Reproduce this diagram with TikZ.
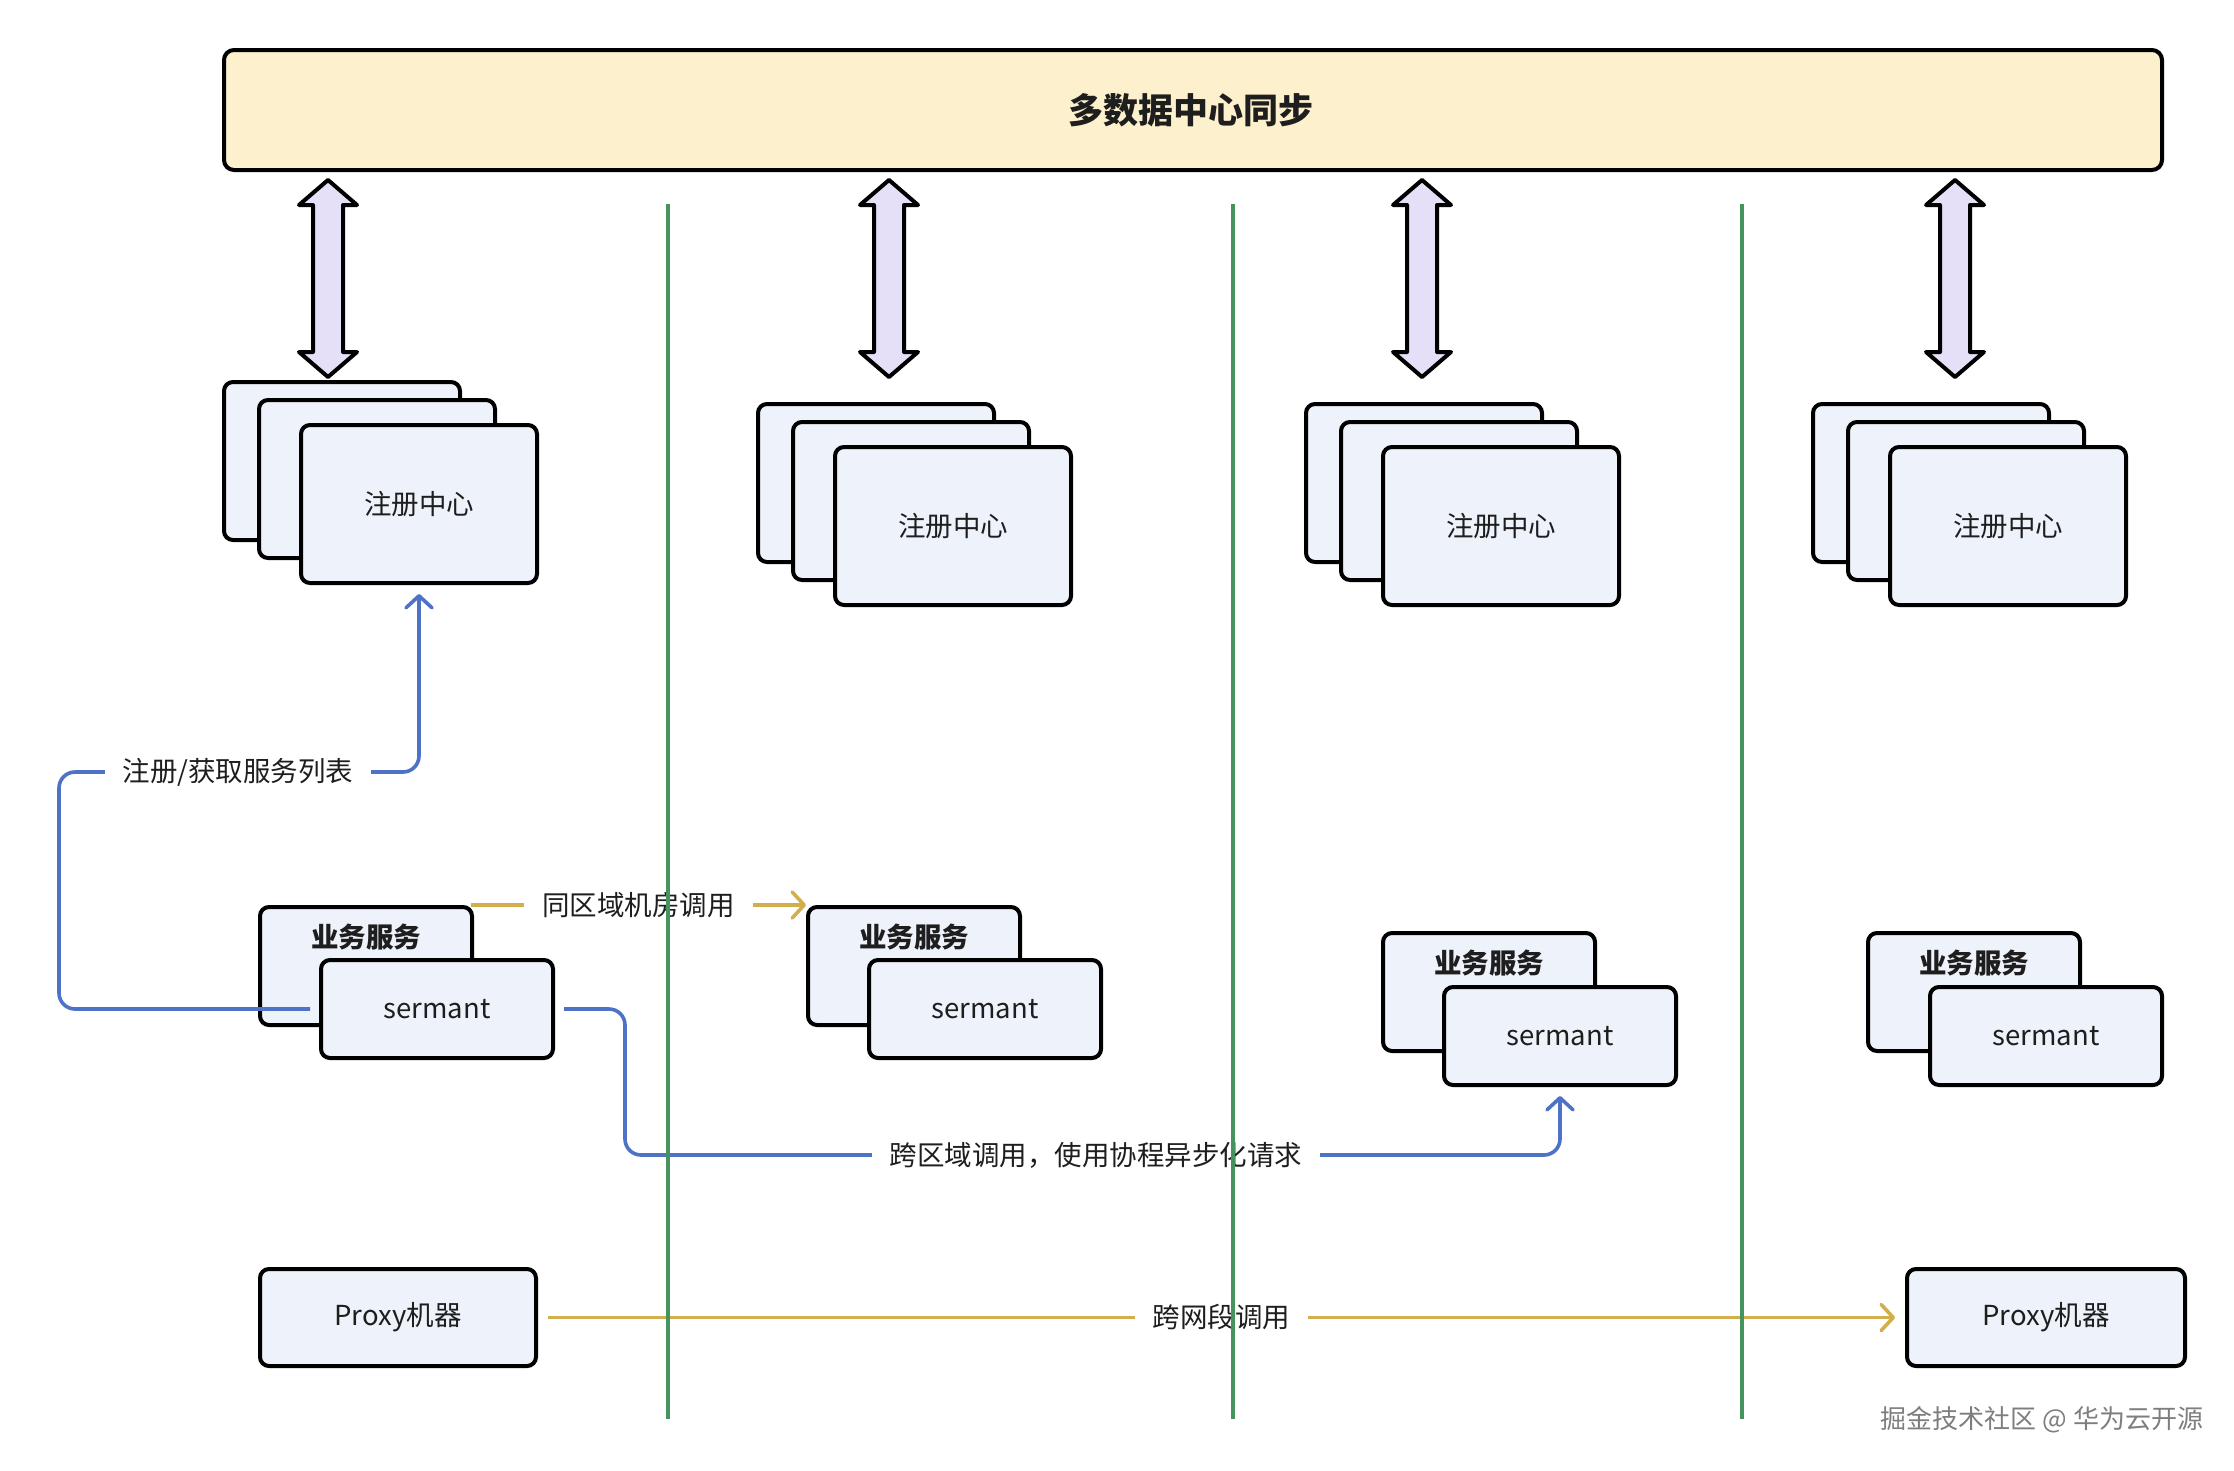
\documentclass[tikz,border=0pt]{standalone}
\usepackage{fontspec}
\setmainfont{Noto Sans CJK SC}
\usetikzlibrary{arrows.meta,calc}
\definecolor{bannerfill}{HTML}{FDF1CD}
\definecolor{cardfill}{HTML}{EEF2FA}
\definecolor{arrowfill}{HTML}{E5E0F8}
\definecolor{greenln}{HTML}{45935F}
\definecolor{blueln}{HTML}{4E72C6}
\definecolor{goldln}{HTML}{D2AF4E}
\definecolor{textc}{HTML}{1E1E1E}
\definecolor{markc}{HTML}{7E7E7E}
\newcommand{\dblarr}[1]{%
  \filldraw[dblstyle] (#1,180) -- (#1+29,205) -- (#1+15,205) -- (#1+15,352) -- (#1+29,352)
    -- (#1,377) -- (#1-29,352) -- (#1-15,352) -- (#1-15,205) -- (#1-29,205) -- cycle;}
\begin{document}
\begin{tikzpicture}[x=1pt,y=-1pt,
  base/.style={font=\fontsize{27.5}{32}\selectfont, text=textc},
  card/.style={base, draw=black, line width=4pt, rounded corners=9pt, fill=cardfill,
    anchor=north west, inner sep=0pt},
  regcard/.style={card, minimum width=236pt, minimum height=158pt},
  svcbox/.style={card, minimum width=212pt, minimum height=118pt,
    label={[base, font=\fontsize{27.5}{32}\selectfont\bfseries, anchor=center, yshift=-32pt]north:业务服务}},
  sermbox/.style={card, minimum width=232pt, minimum height=98pt},
  proxybox/.style={card, minimum height=97pt},
  dblstyle/.style={draw=black, fill=arrowfill, line width=4pt, line join=round},
  lab/.style={base, fill=white, inner xsep=18pt, inner ysep=3pt},
  tip/.style={-{Straight Barb[length=12pt,width=26pt,round]}},
  bluec/.style={draw=blueln, line width=3.6pt, rounded corners=16pt, tip},
  goldc/.style={draw=goldln, line width=3.6pt, tip},
  divider/.style={draw=greenln, line width=3.2pt}
]
\fill[white] (0,0) rectangle (2234,1470);
\useasboundingbox (0,0) rectangle (2234,1470);

% banner
\node[card, fill=bannerfill, rounded corners=10pt, minimum width=1938pt, minimum height=120pt] (banner) at (222,48) {};
\node[base, font=\fontsize{35}{40}\selectfont\bfseries] (title) at (1191,110) {多数据中心同步};

% double arrows
\dblarr{328}
\dblarr{889}
\dblarr{1422}
\dblarr{1955}

% registry stacks
\node[regcard] (r1a) at (222,380) {};
\node[regcard] (r1b) at (257,398) {};
\node[regcard] (r1c) at (299,423) {注册中心};
\node[regcard] (r2a) at (756,402) {};
\node[regcard] (r2b) at (791,420) {};
\node[regcard] (r2c) at (833,445) {注册中心};
\node[regcard] (r3a) at (1304,402) {};
\node[regcard] (r3b) at (1339,420) {};
\node[regcard] (r3c) at (1381,445) {注册中心};
\node[regcard] (r4a) at (1811,402) {};
\node[regcard] (r4b) at (1846,420) {};
\node[regcard] (r4c) at (1888,445) {注册中心};

% services
\node[svcbox] (b1) at (258,905) {};
\node[sermbox] (s1) at (319,958) {sermant};
\node[svcbox] (b2) at (806,905) {};
\node[sermbox] (s2) at (867,958) {sermant};
\node[svcbox] (b3) at (1381,931) {};
\node[sermbox] (s3) at (1442,985) {sermant};
\node[svcbox] (b4) at (1866,931) {};
\node[sermbox] (s4) at (1928,985) {sermant};

% proxies
\node[proxybox, minimum width=276pt] (p1) at (258,1267) {Proxy机器};
\node[proxybox, minimum width=278pt] (p2) at (1905,1267) {Proxy机器};

% connectors
\draw[bluec] ([xshift=-9pt]s1.west) -| (59,772) -| ([yshift=-9pt]r1c.south);
\node[lab] (l1) at (238,772) {注册/获取服务列表};

\draw[goldc] ([xshift=-3pt]b1.north east) -- node[lab] (l2) {同区域机房调用} (b2.north west);

\draw[bluec] ([xshift=9pt]s1.east) -| (625,1155) -| ([yshift=-9pt]s3.south);
\node[lab] (l3) at (1096,1155) {跨区域调用，使用协程异步化请求};

\draw[goldc] ([xshift=10pt]p1.east) -- node[lab] (l4) {跨网段调用} ([xshift=-10pt]p2.west);

% dividers
\coordinate (g1t) at (668,204);  \coordinate (g1b) at (668,1419);
\coordinate (g2t) at (1233,204); \coordinate (g2b) at (1233,1419);
\coordinate (g3t) at (1742,204); \coordinate (g3b) at (1742,1419);
\draw[divider] (g1t) -- (g1b);
\draw[divider] (g2t) -- (g2b);
\draw[divider] (g3t) -- (g3b);

% footer mark
\node[base, text=markc, font=\fontsize{26}{30}\selectfont] (mark) at (2042,1420) {掘金技术社区 @ 华为云开源};
\end{tikzpicture}
\end{document}
